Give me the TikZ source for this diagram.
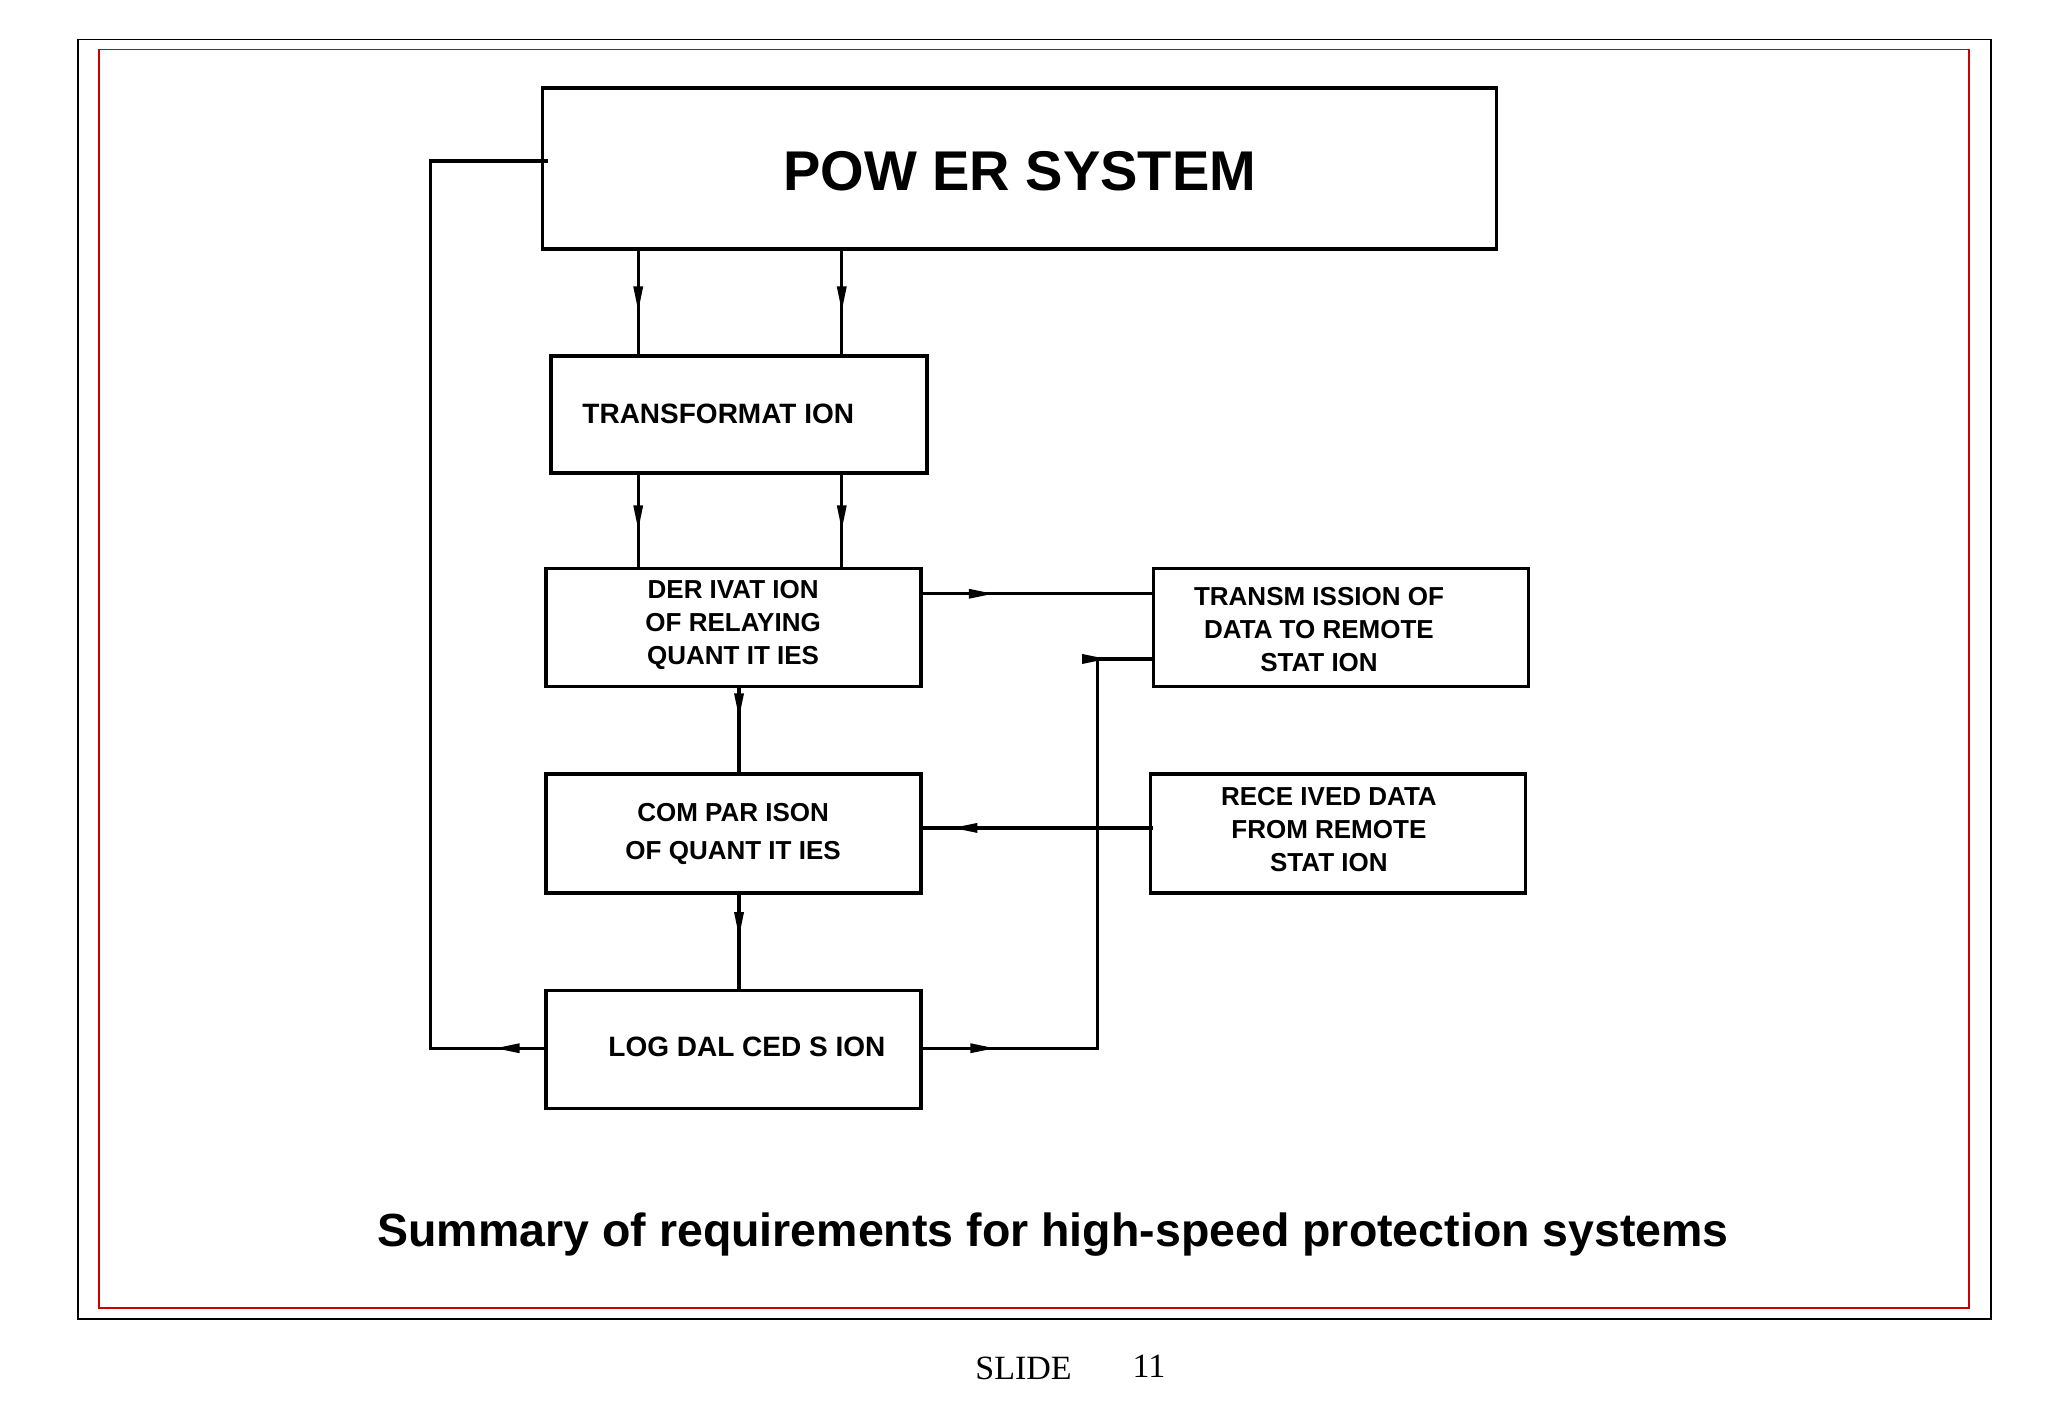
\documentclass[tikz,border=0pt]{standalone}
\usepackage{fontspec}
\setmainfont{Liberation Serif}
\newfontfamily\boxfont{Liberation Sans}
\usetikzlibrary{arrows.meta,decorations.markings}
\begin{document}
\begin{tikzpicture}[x=1pt,y=-1pt,
  blk/.style={draw,line width=3.3pt,inner sep=0pt},
  lbl/.style={font=\boxfont\bfseries\fontsize{28}{36}\selectfont,align=center},
  ln/.style={line width=3.3pt},
  marr/.style={postaction={decorate},decoration={markings,mark=at position #1 with {\fill (4,0) -- (-20,5) -- (-20,-5) -- cycle;}}}]
\useasboundingbox (0,0) rectangle (2048,1418);
\fill[white] (0,0) rectangle (2048,1418);
\begin{scope}[scale=0.988]
\draw[line width=1.5pt] (79,40) rectangle (2015,1335);
\draw[red!80!black,line width=1.5pt] (100,50) rectangle (1993,1324);
% boxes
\node[blk,minimum width=954,minimum height=161] (pw) at (1032,170.5) {};
\node[blk,minimum width=376,minimum height=117] (tr) at (748,419.5) {};
\node[blk,minimum width=375,minimum height=118] (dr) at (742.5,635) {};
\node[blk,minimum width=375,minimum height=118] (tx) at (1357.5,635) {};
\node[blk,minimum width=375,minimum height=119] (cp) at (742.5,843.5) {};
\node[blk,minimum width=375,minimum height=119] (rc) at (1354.5,843.5) {};
\node[blk,minimum width=375,minimum height=118] (lg) at (742.5,1062) {};
% texts
\node[font=\boxfont\bfseries\fontsize{56}{60}\selectfont] (tpw) at (1032,173) {POW ER SYSTEM};
\node[lbl] (ttr) at (727,419) {TRANSFORMAT ION};
\node[lbl,font=\boxfont\bfseries\fontsize{26}{33}\selectfont] (tdr) at (742,633) {DER IVAT ION\\OF RELAYING\\QUANT IT IES};
\node[lbl,font=\boxfont\bfseries\fontsize{26}{33}\selectfont] (ttx) at (1335,637) {TRANSM ISSION OF\\DATA TO REMOTE\\STAT ION};
\node[lbl,font=\boxfont\bfseries\fontsize{26}{38}\selectfont] (tcp) at (742,844) {COM PAR ISON\\OF QUANT IT IES};
\node[lbl,font=\boxfont\bfseries\fontsize{26}{33}\selectfont] (trc) at (1345,840) {RECE IVED DATA\\FROM REMOTE\\STAT ION};
\node[lbl] (tlg) at (756,1060) {LOG DAL CED S ION};
% connectors
\coordinate (a1) at (646,251); \coordinate (a2) at (852,251);
\draw[ln,marr=0.55] (a1) -- (a1 |- tr.north);
\draw[ln,marr=0.55] (a2) -- (a2 |- tr.north);
\draw[ln,marr=0.55] (a1 |- tr.south) -- (a1 |- dr.north);
\draw[ln,marr=0.55] (a2 |- tr.south) -- (a2 |- dr.north);
\draw[ln,marr=0.3] (dr.south -| 748,0) -- (cp.north -| 748,0);
\draw[ln,marr=0.4] (cp.south -| 748,0) -- (lg.north -| 748,0);
\coordinate (d1) at (930,601);
\draw[ln,marr=0.3] (d1) -- (d1 -| tx.west);
\coordinate (r1) at (1167,838);
\draw[ln,marr=0.85] (r1) -- (r1 -| cp.east);
\coordinate (l1) at (930,1061); \coordinate (l2) at (1111,1061); \coordinate (l3) at (1111,667);
\draw[ln,marr=0.92] (l1) -- (l2) -- (l3) -- (l3 -| tx.west);
\draw[ln,marr=0.4] (l1) -- (l2);
\coordinate (p1) at (555,163); \coordinate (f1) at (436,163); \coordinate (f2) at (436,1061);
\draw[ln,marr=0.04] (f2 -| lg.west) -- (f2) -- (f1) -- (p1);
% caption
\node[font=\boxfont\bfseries\fontsize{46.5}{52}\selectfont] (cap) at (1066,1250) {Summary of requirements for high-speed protection systems};
\node[font=\fontsize{34}{40}\selectfont] (sl) at (1036,1385) {SLIDE};
\node[font=\fontsize{34}{40}\selectfont] (sn) at (1163,1383) {11};
\end{scope}
\end{tikzpicture}
\end{document}
